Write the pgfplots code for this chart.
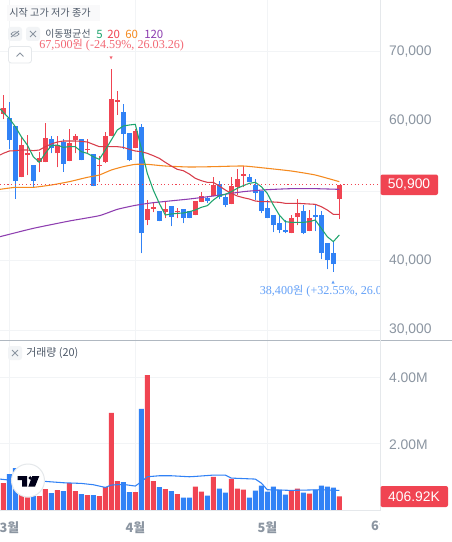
\documentclass[border=0pt]{standalone}
\usepackage{pgfplots}
\usepackage{pgfplotstable}
\usepackage{fontspec}
\pgfplotsset{compat=1.18}
\setmainfont{Liberation Sans}
\newfontfamily\kr{Noto Sans CJK KR}
\newfontfamily\ser{Liberation Serif}
\definecolor{upc}{HTML}{F04452}
\definecolor{dnc}{HTML}{3182F6}
\definecolor{gridc}{HTML}{F2F4F6}
\definecolor{linec}{HTML}{E5E8EB}
\definecolor{sepc}{HTML}{B0B8C1}
\definecolor{labc}{HTML}{8B95A1}
\definecolor{txtc}{HTML}{4E5968}
\definecolor{ma5}{HTML}{1FA56E}
\definecolor{ma60}{HTML}{F58A1F}
\definecolor{ma120}{HTML}{8E3EB0}
\pgfplotstableread{
i bot top low high
0 61057 61919 60339 63786
3 52010 56605 52010 57802
4 55169 55409 52297 58041
6 54164 54738 52728 55600
7 54164 57611 54164 59765
9 55409 56605 53446 57898
11 54308 56940 54308 58903
12 57323 57898 55457 58185
14 55887 56031 55313 57467
16 53590 53733 51292 55026
17 54164 57898 54020 58472
18 57898 63211 57898 67500
19 62828 63020 60914 64407
22 56175 58616 56175 58850
24 45835 47414 45116 48707
25 47462 47654 46984 48420
27 46983 47414 46122 48420
29 46936 47079 46122 47558
32 46553 48564 46553 48564
33 48420 49282 48420 49856
35 49282 50862 49282 52010
38 48133 50718 48133 52010
39 50574 51723 49425 53159
40 52202 52441 50574 53590
48 43968 46122 43968 46553
49 46266 46841 45117 48851
51 44256 46122 44256 47271
56 48851 50900 45979 50900
}\upT
\pgfplotstableread{
i bot top low high
1 57323 60483 55983 62781
2 51435 59334 48898 59334
5 51435 53733 50574 53733
8 56175 57467 55457 57898
10 53925 57036 52776 57467
13 54451 57467 54451 57467
15 50717 55313 50717 55313
20 58185 61345 56031 62493
21 54451 58329 54308 58329
23 43968 59190 41096 59621
26 45691 47127 45691 47127
28 46265 47845 44973 47845
30 46122 47415 45404 47415
31 46122 47128 46122 47128
34 48564 48995 48277 49282
36 49138 51005 48851 51436
37 47989 49138 47702 49569
41 51292 52010 51292 52441
42 49713 50862 48708 51723
43 47128 50000 46841 50000
44 46122 47559 46122 48708
45 45117 46553 44112 46553
46 44399 45404 43968 46553
47 44112 44399 43968 45835
50 43968 47128 43825 47989
52 46266 46553 44256 47989
53 41096 46553 40234 47128
54 40091 42532 38798 42532
55 39516 41096 38400 42819
}\dnT
\pgfplotstableread{
i v
0 0.81
3 0.45
4 0.38
6 0.42
7 0.63
9 0.60
11 0.81
12 0.57
14 0.45
16 0.42
17 0.69
18 2.92
19 0.87
22 0.54
24 4.06
25 0.87
27 0.63
29 0.48
32 0.70
33 0.55
35 1.00
38 0.94
39 0.64
40 0.61
48 0.58
49 0.64
51 0.49
56 0.41
}\upV
\pgfplotstableread{
i v
1 1.08
2 1.26
5 0.42
8 0.51
10 0.57
13 0.48
15 0.45
20 0.84
21 0.54
23 3.04
26 0.69
28 0.57
30 0.37
31 0.37
34 0.43
36 0.64
37 0.52
41 0.37
42 0.58
43 0.73
44 0.55
45 0.70
46 0.61
47 0.46
50 0.52
52 0.61
53 0.73
54 0.70
55 0.67
}\dnV
\pgfplotsset{
 common/.style={
  scale only axis,width=285.375pt,xmin=-0.55,xmax=62.87,
  axis line style={draw=none},
  major tick length=0pt,
  grid style={gridc,line width=0.75pt},
  xmajorgrids,ymajorgrids,xtick={1,22,44},
  yticklabel pos=right,
  yticklabel style={inner sep=0pt,xshift=6.3pt,yshift=0.3pt,text=labc,font=\fontsize{10.4}{12}\selectfont},
 },
 wick/.style={only marks,mark size=0pt,forget plot,error bars/.cd,y dir=plus,y explicit,error mark=none,error bar style={#1,line width=0.8pt}},
 body/.style={only marks,mark size=0pt,forget plot,error bars/.cd,y dir=plus,y explicit,error mark=none,error bar style={#1,line width=3.75pt}},
}
\begin{document}
\begin{tikzpicture}[x=0.75pt,y=-0.75pt]
\clip (0,0) rectangle (452,542);
\fill[white] (0,0) rectangle (452,542);
\begin{axis}[common,at={(0pt,0pt)},anchor=north west,height=255pt,
  ymin=28604,ymax=77428,
  ytick={30000,40000,50000,60000,70000},
  yticklabels={30{,}000,40{,}000,,60{,}000,70{,}000},
  xticklabels={},
]
\addplot[wick=upc] table[x=i,y=low,y error plus expr=\thisrow{high}-\thisrow{low}]{\upT};
\addplot[wick=dnc] table[x=i,y=low,y error plus expr=\thisrow{high}-\thisrow{low}]{\dnT};
\addplot[body=upc] table[x=i,y=bot,y error plus expr=\thisrow{top}-\thisrow{bot}]{\upT};
\addplot[body=dnc] table[x=i,y=bot,y error plus expr=\thisrow{top}-\thisrow{bot}]{\dnT};
% 120
\addplot[ma120,line width=0.8pt,smooth,tension=0.3] coordinates {(-0.55,43441)(5,44638)(11,45691)(16,46457)(19,47366)(22,47941)(25,48324)(31,48851)(35,49282)(40,49904)(44,50191)(48,50335)(52,50335)(56,50239)};
% 60
\addplot[ma60,line width=0.8pt,smooth,tension=0.3] coordinates {(-0.55,50238)(2,50526)(5,50526)(8,50861)(11,51340)(14,51962)(16,52297)(18,53015)(20,53494)(22,53829)(24,53829)(27,53590)(31,53446)(35,53494)(40,53590)(44,53255)(48,52872)(52,52298)(56,51340)};
% 20
\addplot[upc!90!black,line width=0.8pt] coordinates {(-0.55,55169)(0,55409)(1,55744)(2,55792)(3,55887)(4,55887)(5,55792)(6,55887)(7,56366)(8,56749)(9,57036)(10,57180)(11,57180)(12,57180)(13,57132)(14,57036)(15,56701)(16,56366)(17,56366)(18,56366)(19,56366)(20,56270)(21,55983)(22,55744)(23,55648)(24,55409)(25,55073)(26,54691)(27,54116)(28,53590)(29,53111)(30,52920)(31,52441)(32,51819)(33,51484)(34,51245)(35,51245)(36,50718)(37,50144)(38,49665)(39,49282)(40,49043)(41,48851)(42,48564)(43,48468)(44,48468)(45,48420)(46,48372)(47,48229)(48,48229)(49,48229)(50,48181)(51,48133)(52,48085)(53,47750)(54,47271)(55,46649)(56,46649)};
% 5
\addplot[ma5,line width=0.8pt] coordinates {(-0.55,61800)(0,61297)(1,60435)(2,59238)(3,57802)(4,56605)(5,54930)(6,54116)(7,55409)(8,56510)(9,56605)(10,56270)(11,56366)(12,56366)(13,55648)(14,55409)(15,54930)(16,54547)(17,55887)(18,57323)(19,58760)(20,59334)(21,59478)(22,59573)(23,56127)(24,52536)(25,50143)(26,48228)(27,46553)(28,46696)(29,46792)(30,46840)(31,47032)(32,47271)(33,47654)(34,47894)(35,48707)(36,49330)(37,49521)(38,49904)(39,50383)(40,50766)(41,51101)(42,51245)(43,50622)(44,49665)(45,47989)(46,46553)(47,45596)(48,45500)(49,45500)(50,45500)(51,45596)(52,45835)(53,44639)(54,43442)(55,42724)(56,43681)};
% last price
\addplot[upc,line width=0.8pt,dotted] coordinates {(-0.55,50900)(62.87,50900)};
\end{axis}
\begin{axis}[common,at={(0pt,-255pt)},anchor=north west,height=127.5pt,
  ymin=0,ymax=5.113,
  ytick={2,4},yticklabels={2.00M,4.00M},
  yticklabel style={yshift=-1pt},
  xticklabels={3월,4월,5월},
  xticklabel style={font=\kr\bfseries\fontsize{9.6}{12}\selectfont,text=labc,yshift=-8.4pt,inner sep=0pt},
  ybar,bar width=3.75pt,bar shift=0pt,
]
\addplot[fill=upc,draw=none] table[x=i,y=v]{\upV};
\addplot[fill=dnc,draw=none] table[x=i,y=v]{\dnV};
\addplot[sharp plot,dnc,line width=0.8pt] coordinates {(-0.55,0.93)(1,0.90)(3,0.85)(7,0.86)(10,0.82)(13,0.80)(15,0.76)(17,0.68)(18,0.75)(20,0.77)(22,0.72)(23,0.85)(24,1.00)(26,1.03)(28,1.03)(31,1.00)(32,1.01)(35,1.05)(37,1.05)(38,0.96)(42,0.93)(43,0.81)(44,0.61)(48,0.59)(53,0.61)(56,0.59)};
\end{axis}
% frame
\draw[sepc,line width=0.75pt] (0,340.5) -- (452,340.5);
\draw[linec,line width=0.75pt] (380.5,0) -- (380.5,510.5) -- (0,510.5);
% 6wol clipped
\begin{scope}
\clip (340,512) rectangle (379.5,540);
\node[anchor=center,inner sep=0pt,text=labc,font=\kr\bfseries\fontsize{9.6}{12}\selectfont] at (381,526) {6월};
\end{scope}
% price tags
\fill[upc,rounded corners=1.5pt] (380.5,174.5) rectangle (438,195);
\node[anchor=center,inner sep=0pt,text=white,font=\fontsize{10.4}{12}\selectfont] at (409,184.5) {50,900};
\fill[upc,rounded corners=1.5pt] (380.5,486) rectangle (448,507);
\node[anchor=center,inner sep=0pt,text=white,font=\fontsize{10.4}{12}\selectfont] at (414,496.5) {406.92K};
% header
\fill[gridc!50] (7,5) rectangle (100,21);
\node[anchor=west,inner sep=0pt,text=txtc,font=\kr\fontsize{7.6}{10}\selectfont] at (9,13) {시작 고가 저가 종가};
\fill[gridc,rounded corners=2pt] (8,27) rectangle (22,41);
\fill[gridc,rounded corners=2pt] (26,27) rectangle (40,41);
\draw[labc,line width=0.7pt] (11,37) -- (19,31);
\draw[labc,line width=0.6pt] (11,34) .. controls (13,31) and (17,31) .. (19,34) .. controls (17,37) and (13,37) .. (11,34);
\draw[labc,line width=0.7pt] (30,31) -- (36,37) (36,31) -- (30,37);
\node[anchor=west,inner sep=0pt,text=txtc,font=\kr\fontsize{7.4}{10}\selectfont] at (45,34) {이동평균선};
\node[anchor=west,inner sep=0pt,text=ma5,font=\kr\fontsize{8.6}{10}\selectfont] at (96,34) {5};
\node[anchor=west,inner sep=0pt,text=upc,font=\kr\fontsize{8.6}{10}\selectfont] at (107,34) {20};
\node[anchor=west,inner sep=0pt,text=ma60,font=\kr\fontsize{8.6}{10}\selectfont] at (125,34) {60};
\node[anchor=west,inner sep=0pt,text=ma120,font=\kr\fontsize{8.6}{10}\selectfont] at (144,34) {120};
\draw[linec,fill=white,rounded corners=2pt,line width=0.6pt] (8.5,46.5) rectangle (31.5,63);
\draw[labc,line width=0.7pt] (16.5,56.5) -- (20,53) -- (23.5,56.5);
% annotations
\node[anchor=west,inner sep=0pt,text=upc!80,font=\ser\fontsize{9.1}{10}\selectfont] at (39,45.5) {67,500{\kr\fontsize{8.4}{10}\selectfont 원} (-24.59\%, 26.03.26)};
\fill[upc!80] (109.5,56.5) -- (112.5,56.5) -- (111,59.5) -- cycle;
\begin{scope}
\clip (250,280) rectangle (379.5,300);
\node[anchor=west,inner sep=0pt,text=dnc!75,font=\ser\fontsize{9.1}{10}\selectfont] at (259.5,291) {38,400{\kr\fontsize{8.4}{10}\selectfont 원} (+32.55\%, 26.03.26)};
\end{scope}
\fill[dnc!75] (331.5,283.5) -- (334.5,283.5) -- (333,280.5) -- cycle;
% volume header
\fill[gridc,rounded corners=2pt] (8,346) rectangle (22,360);
\draw[labc,line width=0.7pt] (12,350) -- (18,356) (18,350) -- (12,356);
\node[anchor=west,inner sep=0pt,text=txtc,font=\kr\fontsize{8.2}{10}\selectfont] at (26,353) {거래량 (20)};
% logo
\fill[white,draw=linec,line width=0.75pt] (28,480.5) circle (16.5);
\fill[black!90!blue] (17.7,476) rectangle (27,480) (22,480) rectangle (27,486.7);
\fill[black!90!blue] (30.2,478) circle (1.9);
\fill[black!90!blue] (32.3,476) -- (39.3,476) -- (35,486.7) -- (28.3,486.7) -- cycle;
\end{tikzpicture}
\end{document}
